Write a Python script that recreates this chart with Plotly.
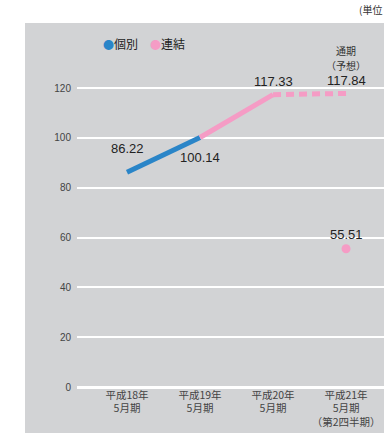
import plotly.graph_objects as go

categories = ["平成18年<br>5月期", "平成19年<br>5月期", "平成20年<br>5月期", "平成21年<br>5月期<br>（第2四半期）"]
x_pos = [0, 1, 2, 3]
kobetsu = [86.22, 100.14]          # 個別 (H18, H19)
renketsu = [100.14, 117.33]        # 連結 (H19, H20)
forecast = [117.33, 117.84]        # 連結 通期予想 (H20 -> H21)
q2_value = 55.51                   # 連結 第2四半期 (H21)
y_ticks = [0, 20, 40, 60, 80, 100, 120]

BLUE = "#2a85c8"
PINK = "#f59cc5"
FONT = "Liberation Sans, Arial, Noto Sans CJK JP"
JP = "Noto Sans CJK JP"

fig = go.Figure()
fig.add_trace(go.Scatter(x=x_pos[0:2], y=kobetsu, mode="lines",
                         line=dict(color=BLUE, width=5), name="個別", showlegend=False))
fig.add_trace(go.Scatter(x=x_pos[1:3], y=renketsu, mode="lines",
                         line=dict(color=PINK, width=5), name="連結", showlegend=False))
fig.add_trace(go.Scatter(x=x_pos[2:4], y=forecast, mode="lines",
                         line=dict(color=PINK, width=5, dash="8px,5px"), name="連結（予想）", showlegend=False))
fig.add_trace(go.Scatter(x=[x_pos[3]], y=[q2_value], mode="markers",
                         marker=dict(color=PINK, size=9), name="連結 第2四半期", showlegend=False))

# data labels
labels = [
    (x_pos[0], kobetsu[0], f"{kobetsu[0]:.2f}", 24),
    (x_pos[1], kobetsu[1], f"{kobetsu[1]:.2f}", -20),
    (x_pos[2], renketsu[1], f"{renketsu[1]:.2f}", 13),
    (x_pos[3], forecast[1], f"{forecast[1]:.2f}", 13),
    (x_pos[3], q2_value, f"{q2_value:.2f}", 14),
]
for x, y, t, dy in labels:
    fig.add_annotation(x=x, y=y, text=t, showarrow=False, yshift=dy,
                       font=dict(size=13, color="#222", family=FONT))
fig.add_annotation(x=x_pos[3], y=forecast[1], text="通期", showarrow=False,
                   yshift=43, font=dict(size=10, color="#333", family=JP))
fig.add_annotation(x=x_pos[3], y=forecast[1], text="（予想）", showarrow=False,
                   yshift=28, font=dict(size=10, color="#333", family=JP))

# legend
fig.add_annotation(xref="paper", yref="paper", x=(101 - 77) / 307, y=1.0, xanchor="left", yanchor="middle",
                   yshift=-20,
                   text=(f'<span style="color:{BLUE};font-size:11px">●</span>個別　'
                         f'<span style="color:{PINK};font-size:11px">●</span>連結'),
                   showarrow=False, font=dict(size=12, color="#222", family=JP))

# unit
fig.add_annotation(xref="paper", yref="paper", x=1.0, y=1.0, xanchor="right", yanchor="bottom",
                   yshift=4, text="(単位", showarrow=False,
                   font=dict(size=10, color="#333", family=JP))

# gray panel
fig.add_shape(type="rect", xref="paper", yref="paper", x0=-0.1694, x1=1.0, y0=-0.1273, y1=1.0,
              fillcolor="#d2d3d5", line=dict(width=0), layer="below")

fig.update_layout(
    width=384, height=433,
    margin=dict(l=77, r=0, t=23, b=46),
    paper_bgcolor="white", plot_bgcolor="rgba(0,0,0,0)",
    showlegend=False,
    xaxis=dict(range=[-0.685, 3.52], tickvals=x_pos, ticktext=categories, showgrid=False,
               zeroline=False, showline=False, ticks="", fixedrange=True,
               tickfont=dict(size=10.5, color="#444", family=JP)),
    yaxis=dict(range=[0, 146.1], tickvals=y_ticks, showgrid=True, gridcolor="white", gridwidth=1.5,
               zeroline=True, zerolinecolor="white", zerolinewidth=3, showline=False, ticks="",
               ticklabelstandoff=5,
               tickfont=dict(size=10, color="#444", family=FONT)),
)

fig.write_html("out.html")
